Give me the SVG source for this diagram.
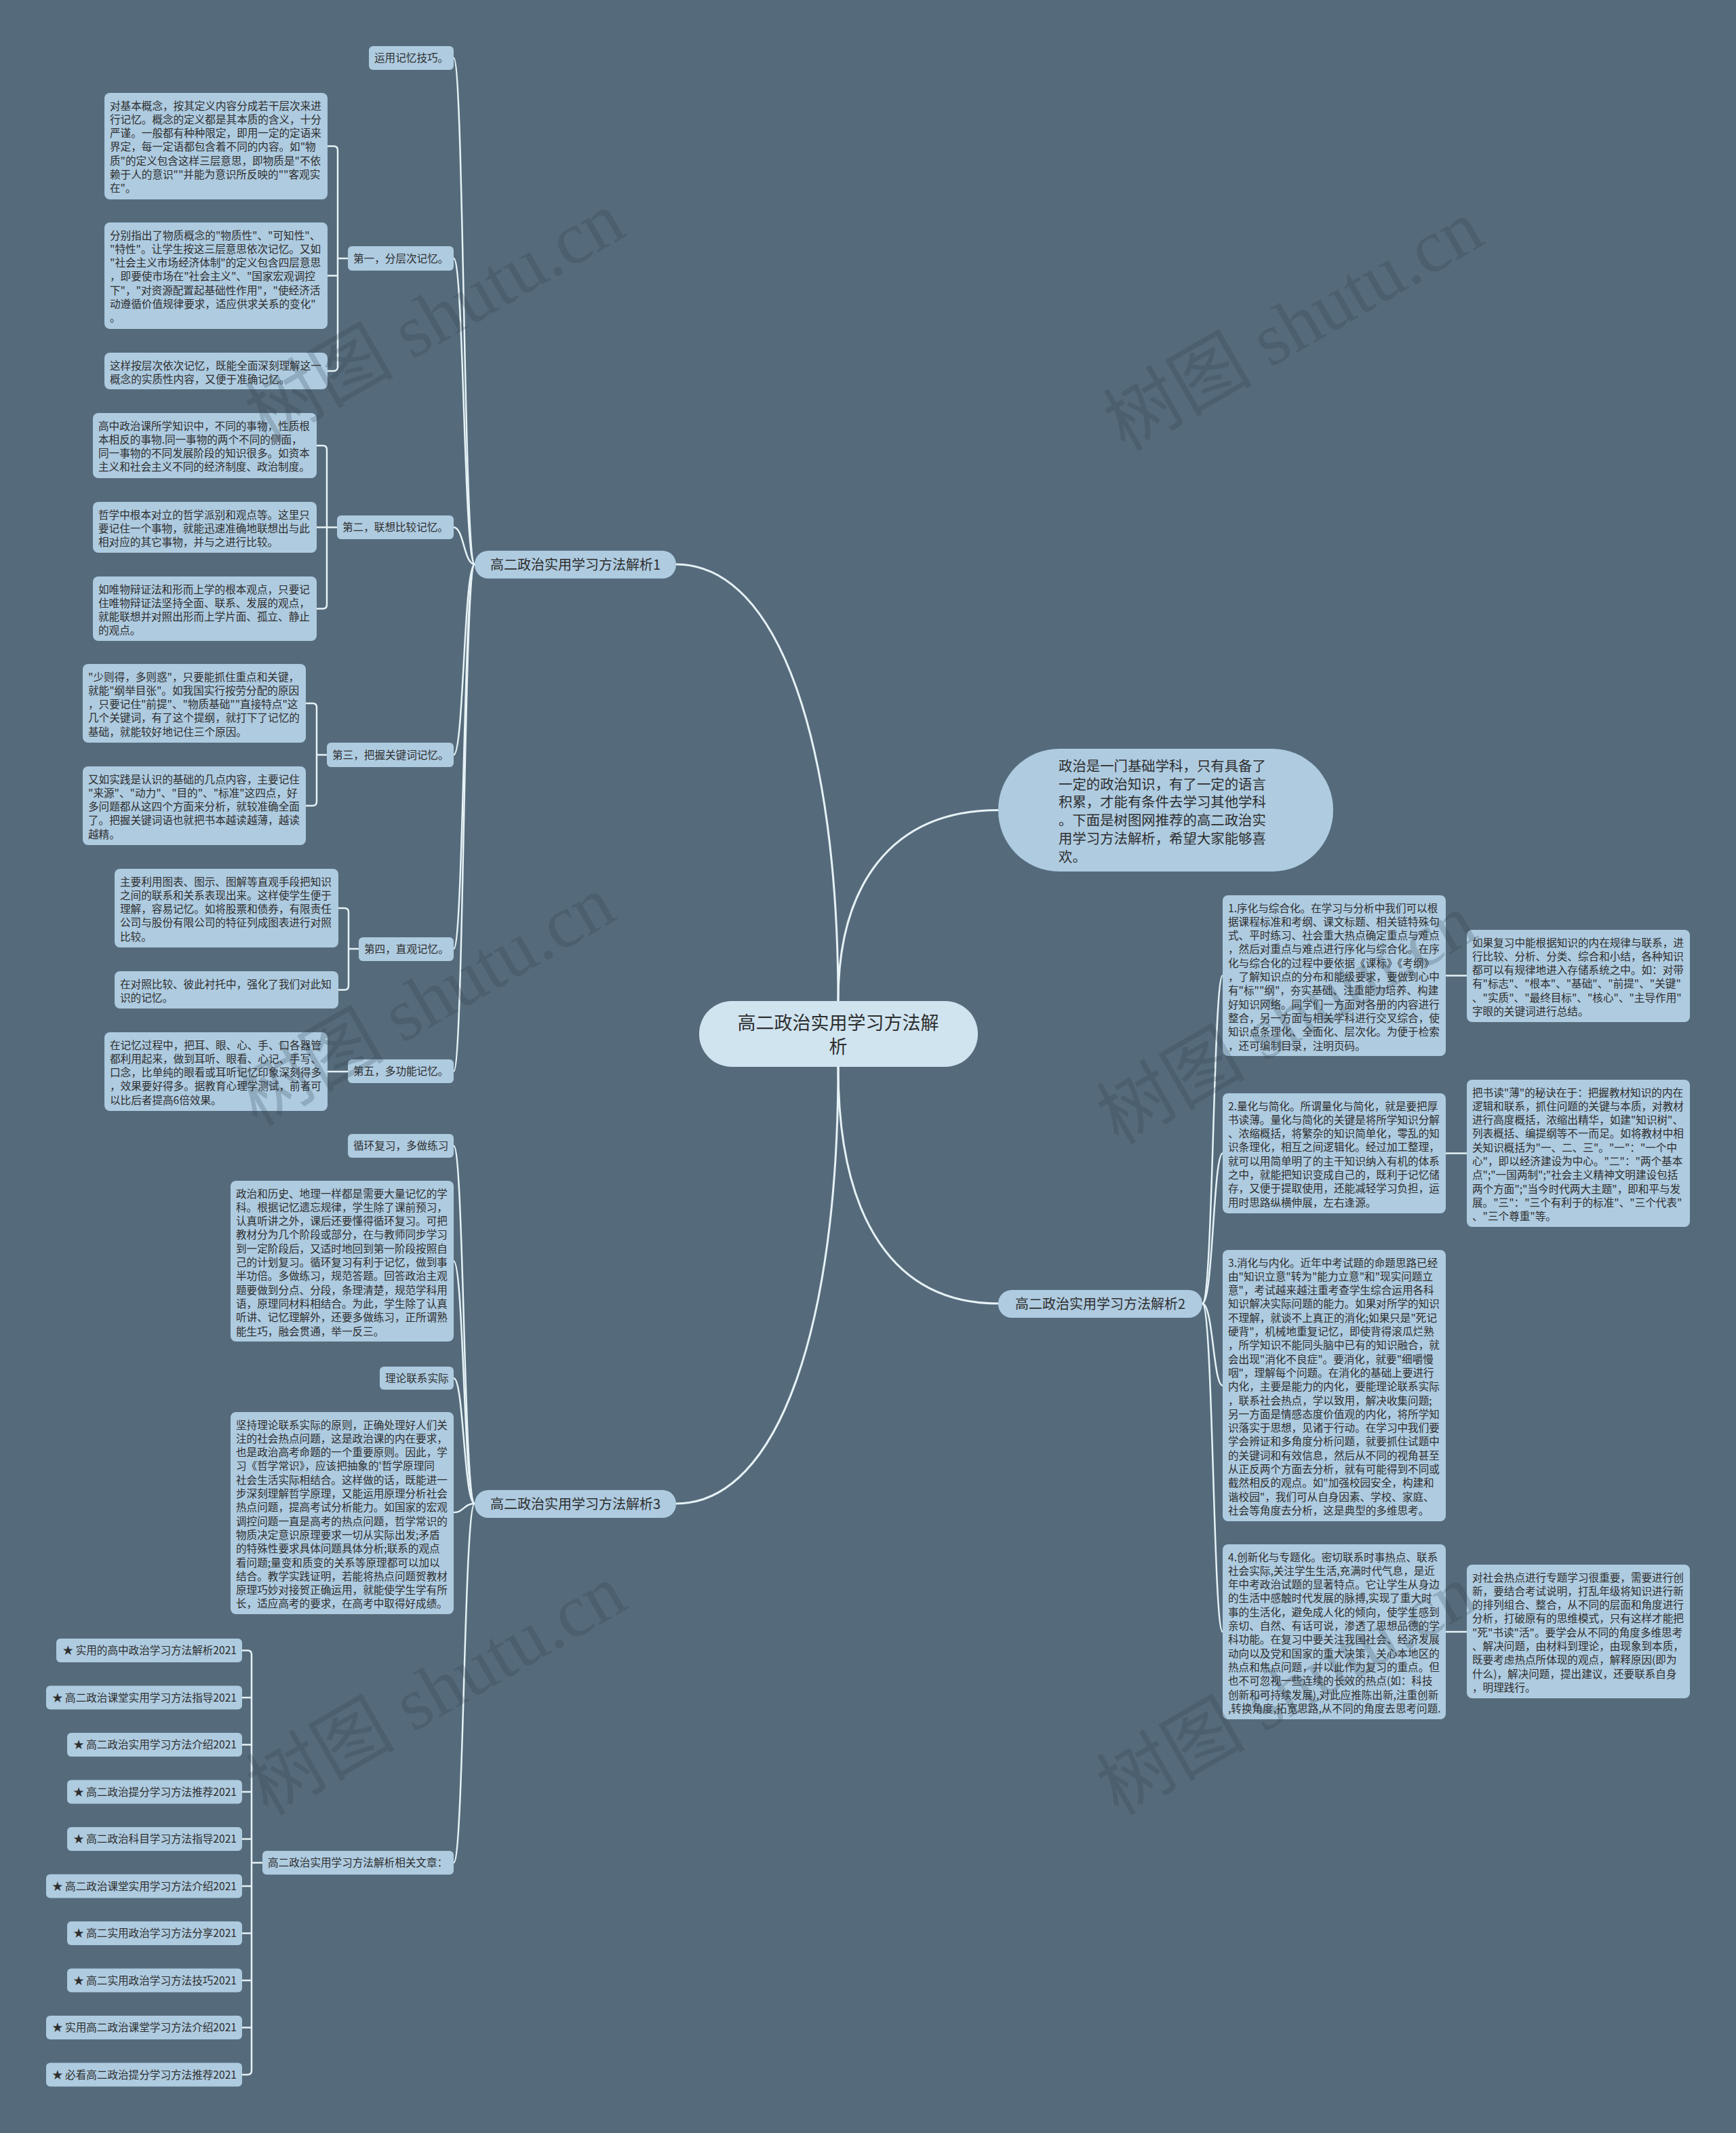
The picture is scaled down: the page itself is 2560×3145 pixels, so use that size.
<svg xmlns="http://www.w3.org/2000/svg" width="2560" height="3145" viewBox="0 0 2560 3145">
<style>
.box{fill:#AECBE0;}
.root{fill:#D0E4F0;}
.t{font-family:"Noto Sans CJK SC","Noto Sans",sans-serif;font-size:15.6px;fill:#2e2e2e;}
.tb{font-family:"Noto Sans CJK SC","Noto Sans",sans-serif;font-size:20px;fill:#2e2e2e;}
.tr{font-family:"Noto Sans CJK SC","Noto Sans",sans-serif;font-size:27px;fill:#2e2e2e;}
.ti{font-family:"Noto Sans CJK SC","Noto Sans",sans-serif;font-size:20.4px;fill:#2e2e2e;}
.ln{fill:none;stroke:#E6F2F6;stroke-width:2.5;stroke-linecap:round;}
.lr{fill:none;stroke:#E6F2F6;stroke-width:3;stroke-linecap:round;}
.wm{font-family:"Liberation Serif","Noto Sans CJK SC",serif;font-size:110px;fill:#2a3843;fill-opacity:0.22;}
</style>
<rect x="0" y="0" width="2560" height="3145" fill="#556B7B"/>

<g id="connectors">
<path class="lr" d="M1236 1476C1236 1100 1150 832 997 832"/>
<path class="lr" d="M1236 1476C1236 1310 1310 1194.5 1472 1194.5"/>
<path class="lr" d="M1236 1573C1236 1800 1320 1922 1472 1922"/>
<path class="lr" d="M1236 1573C1236 1950 1150 2217 997 2217"/>
<path class="ln" d="M700 832C684 832 684 85.5 669 85.5"/>
<path class="ln" d="M700 832C684 832 684 381 669 381"/>
<path class="ln" d="M700 832C684 832 684 777.5 669 777.5"/>
<path class="ln" d="M700 832C684 832 684 1113 669 1113"/>
<path class="ln" d="M700 832C684 832 684 1399 669 1399"/>
<path class="ln" d="M700 832C684 832 684 1579.5 669 1579.5"/>
<path class="ln" d="M700 2217C684 2217 684 1689.5 669 1689.5"/>
<path class="ln" d="M700 2217C684 2217 684 1859.5 669 1859.5"/>
<path class="ln" d="M700 2217C684 2217 684 2032 669 2032"/>
<path class="ln" d="M700 2217C684 2217 684 2230 669 2230"/>
<path class="ln" d="M700 2217C684 2217 684 2746.5 669 2746.5"/>
<path class="ln" d="M1773 1922C1789 1922 1789 1438.5 1803 1438.5"/>
<path class="ln" d="M1773 1922C1789 1922 1789 1700.5 1803 1700.5"/>
<path class="ln" d="M1773 1922C1789 1922 1789 2043 1803 2043"/>
<path class="ln" d="M1773 1922C1789 1922 1789 2406 1803 2406"/>
<path class="ln" d="M513 381H498M483 215.5H492Q498 215.5 498 221.5V541Q498 547 492 547H483M483 406.5H498"/>
<path class="ln" d="M497 777.5H482M467 657H476Q482 657 482 663V891.5Q482 897.5 476 897.5H467M467 777.5H482"/>
<path class="ln" d="M482 1113H467M451 1037H461Q467 1037 467 1043V1182Q467 1188 461 1188H451"/>
<path class="ln" d="M529 1399H514M499 1339H508Q514 1339 514 1345V1453.5Q514 1459.5 508 1459.5H499"/>
<path class="ln" d="M483 1580H513"/>
<path class="ln" d="M387 2746.5H371M357 2433.5H365Q371 2433.5 371 2439.5V3053Q371 3059 365 3059H357M357 2503H371M357 2572.5H371M357 2642H371M357 2711.5H371M357 2781H371M357 2850.5H371M357 2920H371M357 2989.5H371"/>
<path class="ln" d="M2132 1438.5H2163M2132 1700.5H2163M2132 2406H2163"/>
</g>

<g id="root">
<rect class="root" x="1031" y="1476" width="411" height="97" rx="48"/>
<text class="tr" x="1236" y="1517.5" text-anchor="middle">高二政治实用学习方法解</text>
<text class="tr" x="1236" y="1552.5" text-anchor="middle">析</text>
</g>

<g id="intro">
<rect class="box" x="1472" y="1104" width="494" height="181" rx="90"/>
<text class="ti" x="1561" y="1137"><tspan x="1561" dy="0">政治是一门基础学科，只有具备了</tspan><tspan x="1561" dy="26.7">一定的政治知识，有了一定的语言</tspan><tspan x="1561" dy="26.7">积累，才能有条件去学习其他学科</tspan><tspan x="1561" dy="26.7">。下面是树图网推荐的高二政治实</tspan><tspan x="1561" dy="26.7">用学习方法解析，希望大家能够喜</tspan><tspan x="1561" dy="26.7">欢。</tspan></text>
</g>

<g id="branch1">
<rect class="box" x="700" y="812" width="297" height="41" rx="20"/>
<text class="tb" x="848.5" y="839.5" text-anchor="middle">高二政治实用学习方法解析1</text>
</g>
<g id="branch2">
<rect class="box" x="1472" y="1902" width="301" height="41" rx="20"/>
<text class="tb" x="1622.5" y="1929.5" text-anchor="middle">高二政治实用学习方法解析2</text>
</g>
<g id="branch3">
<rect class="box" x="700" y="2197" width="297" height="41" rx="20"/>
<text class="tb" x="848.5" y="2224.5" text-anchor="middle">高二政治实用学习方法解析3</text>
</g>

<g id="n-yunyong">
<rect class="box" x="544" y="68" width="125" height="35" rx="6"/>
<text class="t" x="552" y="91">运用记忆技巧。</text>
</g>
<g id="n-di1">
<rect class="box" x="513" y="363" width="156" height="36" rx="6"/>
<text class="t" x="521" y="386.5">第一，分层次记忆。</text>
</g>
<g id="n-a1">
<rect class="box" x="154" y="137" width="329" height="157" rx="8"/>
<text class="t" x="162" y="161.5"><tspan x="162" dy="0">对基本概念，按其定义内容分成若干层次来进</tspan><tspan x="162" dy="20.3">行记忆。概念的定义都是其本质的含义，十分</tspan><tspan x="162" dy="20.3">严谨。一般都有种种限定，即用一定的定语来</tspan><tspan x="162" dy="20.3">界定，每一定语都包含着不同的内容。如"物</tspan><tspan x="162" dy="20.3">质"的定义包含这样三层意思，即物质是"不依</tspan><tspan x="162" dy="20.3">赖于人的意识""并能为意识所反映的""客观实</tspan><tspan x="162" dy="20.3">在"。</tspan></text>
</g>
<g id="n-a2">
<rect class="box" x="154" y="328" width="329" height="157" rx="8"/>
<text class="t" x="162" y="352.5"><tspan x="162" dy="0">分别指出了物质概念的"物质性"、"可知性"、</tspan><tspan x="162" dy="20.3">"特性"。让学生按这三层意思依次记忆。又如</tspan><tspan x="162" dy="20.3">"社会主义市场经济体制"的定义包含四层意思</tspan><tspan x="162" dy="20.3">，即要使市场在"社会主义"、"国家宏观调控</tspan><tspan x="162" dy="20.3">下"，"对资源配置起基础性作用"，"使经济活</tspan><tspan x="162" dy="20.3">动遵循价值规律要求，适应供求关系的变化"</tspan><tspan x="162" dy="20.3">。</tspan></text>
</g>
<g id="n-a3">
<rect class="box" x="154" y="520" width="329" height="54" rx="8"/>
<text class="t" x="162" y="544.5"><tspan x="162" dy="0">这样按层次依次记忆，既能全面深刻理解这一</tspan><tspan x="162" dy="20.3">概念的实质性内容，又便于准确记忆。</tspan></text>
</g>

<g id="n-di2">
<rect class="box" x="497" y="760" width="172" height="35" rx="6"/>
<text class="t" x="505" y="783">第二，联想比较记忆。</text>
</g>
<g id="n-b1">
<rect class="box" x="137" y="609" width="330" height="96" rx="8"/>
<text class="t" x="145" y="633.5"><tspan x="145" dy="0">高中政治课所学知识中，不同的事物，性质根</tspan><tspan x="145" dy="20.3">本相反的事物.同一事物的两个不同的侧面，</tspan><tspan x="145" dy="20.3">同一事物的不同发展阶段的知识很多。如资本</tspan><tspan x="145" dy="20.3">主义和社会主义不同的经济制度、政治制度。</tspan></text>
</g>
<g id="n-b2">
<rect class="box" x="137" y="740" width="330" height="75" rx="8"/>
<text class="t" x="145" y="764.5"><tspan x="145" dy="0">哲学中根本对立的哲学派别和观点等。这里只</tspan><tspan x="145" dy="20.3">要记住一个事物，就能迅速准确地联想出与此</tspan><tspan x="145" dy="20.3">相对应的其它事物，并与之进行比较。</tspan></text>
</g>
<g id="n-b3">
<rect class="box" x="137" y="850" width="330" height="95" rx="8"/>
<text class="t" x="145" y="874.5"><tspan x="145" dy="0">如唯物辩证法和形而上学的根本观点，只要记</tspan><tspan x="145" dy="20.3">住唯物辩证法坚持全面、联系、发展的观点，</tspan><tspan x="145" dy="20.3">就能联想并对照出形而上学片面、孤立、静止</tspan><tspan x="145" dy="20.3">的观点。</tspan></text>
</g>

<g id="n-di3">
<rect class="box" x="482" y="1095" width="187" height="36" rx="6"/>
<text class="t" x="490" y="1118.5">第三，把握关键词记忆。</text>
</g>
<g id="n-c1">
<rect class="box" x="122" y="979" width="329" height="116" rx="8"/>
<text class="t" x="130" y="1003.5"><tspan x="130" dy="0">"少则得，多则惑"，只要能抓住重点和关键，</tspan><tspan x="130" dy="20.3">就能"纲举目张"。如我国实行按劳分配的原因</tspan><tspan x="130" dy="20.3">，只要记住"前提"、"物质基础""直接特点"这</tspan><tspan x="130" dy="20.3">几个关键词，有了这个提纲，就打下了记忆的</tspan><tspan x="130" dy="20.3">基础，就能较好地记住三个原因。</tspan></text>
</g>
<g id="n-c2">
<rect class="box" x="122" y="1130" width="329" height="116" rx="8"/>
<text class="t" x="130" y="1154.5"><tspan x="130" dy="0">又如实践是认识的基础的几点内容，主要记住</tspan><tspan x="130" dy="20.3">"来源"、"动力"、"目的"、"标准"这四点，好</tspan><tspan x="130" dy="20.3">多问题都从这四个方面来分析，就较准确全面</tspan><tspan x="130" dy="20.3">了。把握关键词语也就把书本越读越薄，越读</tspan><tspan x="130" dy="20.3">越精。</tspan></text>
</g>

<g id="n-di4">
<rect class="box" x="529" y="1382" width="140" height="35" rx="6"/>
<text class="t" x="537" y="1405">第四，直观记忆。</text>
</g>
<g id="n-d1">
<rect class="box" x="169" y="1281" width="330" height="116" rx="8"/>
<text class="t" x="177" y="1305.5"><tspan x="177" dy="0">主要利用图表、图示、图解等直观手段把知识</tspan><tspan x="177" dy="20.3">之间的联系和关系表现出来。这样使学生便于</tspan><tspan x="177" dy="20.3">理解，容易记忆。如将股票和债券，有限责任</tspan><tspan x="177" dy="20.3">公司与股份有限公司的特征列成图表进行对照</tspan><tspan x="177" dy="20.3">比较。</tspan></text>
</g>
<g id="n-d2">
<rect class="box" x="169" y="1432" width="330" height="55" rx="8"/>
<text class="t" x="177" y="1456.5"><tspan x="177" dy="0">在对照比较、彼此衬托中，强化了我们对此知</tspan><tspan x="177" dy="20.3">识的记忆。</tspan></text>
</g>

<g id="n-di5">
<rect class="box" x="513" y="1562" width="156" height="35" rx="6"/>
<text class="t" x="521" y="1585">第五，多功能记忆。</text>
</g>
<g id="n-e1">
<rect class="box" x="154" y="1522" width="329" height="116" rx="8"/>
<text class="t" x="162" y="1546.5"><tspan x="162" dy="0">在记忆过程中，把耳、眼、心、手、口各器管</tspan><tspan x="162" dy="20.3">都利用起来，做到耳听、眼看、心记、手写、</tspan><tspan x="162" dy="20.3">口念，比单纯的眼看或耳听记忆印象深刻得多</tspan><tspan x="162" dy="20.3">，效果要好得多。据教育心理学测试，前者可</tspan><tspan x="162" dy="20.3">以比后者提高6倍效果。</tspan></text>
</g>

<g id="n-xunhuan">
<rect class="box" x="513" y="1672" width="156" height="35" rx="6"/>
<text class="t" x="521" y="1695">循环复习，多做练习</text>
</g>
<g id="n-f1">
<rect class="box" x="340" y="1741" width="329" height="237" rx="8"/>
<text class="t" x="348" y="1765.5"><tspan x="348" dy="0">政治和历史、地理一样都是需要大量记忆的学</tspan><tspan x="348" dy="20.3">科。根据记忆遗忘规律，学生除了课前预习，</tspan><tspan x="348" dy="20.3">认真听讲之外，课后还要懂得循环复习。可把</tspan><tspan x="348" dy="20.3">教材分为几个阶段或部分，在与教师同步学习</tspan><tspan x="348" dy="20.3">到一定阶段后，又适时地回到第一阶段按照自</tspan><tspan x="348" dy="20.3">己的计划复习。循环复习有利于记忆，做到事</tspan><tspan x="348" dy="20.3">半功倍。多做练习，规范答题。回答政治主观</tspan><tspan x="348" dy="20.3">题要做到分点、分段，条理清楚，规范学科用</tspan><tspan x="348" dy="20.3">语，原理同材料相结合。为此，学生除了认真</tspan><tspan x="348" dy="20.3">听讲、记忆理解外，还要多做练习，正所谓熟</tspan><tspan x="348" dy="20.3">能生巧，融会贯通，举一反三。</tspan></text>
</g>
<g id="n-lilun">
<rect class="box" x="560" y="2015" width="109" height="34" rx="6"/>
<text class="t" x="568" y="2037.5">理论联系实际</text>
</g>
<g id="n-g1">
<rect class="box" x="340" y="2082" width="329" height="298" rx="8"/>
<text class="t" x="348" y="2106.5"><tspan x="348" dy="0">坚持理论联系实际的原则，正确处理好人们关</tspan><tspan x="348" dy="20.3">注的社会热点问题，这是政治课的内在要求，</tspan><tspan x="348" dy="20.3">也是政治高考命题的一个重要原则。因此，学</tspan><tspan x="348" dy="20.3">习《哲学常识》，应该把抽象的'哲学原理同</tspan><tspan x="348" dy="20.3">社会生活实际相结合。这样做的话，既能进一</tspan><tspan x="348" dy="20.3">步深刻理解哲学原理，又能运用原理分析社会</tspan><tspan x="348" dy="20.3">热点问题，提高考试分析能力。如国家的宏观</tspan><tspan x="348" dy="20.3">调控问题一直是高考的热点问题，哲学常识的</tspan><tspan x="348" dy="20.3">物质决定意识原理要求一切从实际出发;矛盾</tspan><tspan x="348" dy="20.3">的特殊性要求具体问题具体分析;联系的观点</tspan><tspan x="348" dy="20.3">看问题;量变和质变的关系等原理都可以加以</tspan><tspan x="348" dy="20.3">结合。教学实践证明，若能将热点问题贺教材</tspan><tspan x="348" dy="20.3">原理巧妙对接贺正确运用，就能使学生学有所</tspan><tspan x="348" dy="20.3">长，适应高考的要求，在高考中取得好成绩。</tspan></text>
</g>

<g id="n-related">
<rect class="box" x="387" y="2729" width="282" height="35" rx="6"/>
<text class="t" x="395" y="2752">高二政治实用学习方法解析相关文章：</text>
</g>
<g id="art1"><rect class="box" x="83" y="2416" width="274" height="35" rx="6"/><text class="t" x="349" y="2439" text-anchor="end">★ 实用的高中政治学习方法解析2021</text></g>
<g id="art2"><rect class="box" x="68" y="2485.5" width="289" height="35" rx="6"/><text class="t" x="349" y="2508.5" text-anchor="end">★ 高二政治课堂实用学习方法指导2021</text></g>
<g id="art3"><rect class="box" x="99" y="2555" width="258" height="35" rx="6"/><text class="t" x="349" y="2578" text-anchor="end">★ 高二政治实用学习方法介绍2021</text></g>
<g id="art4"><rect class="box" x="99" y="2624.5" width="258" height="35" rx="6"/><text class="t" x="349" y="2647.5" text-anchor="end">★ 高二政治提分学习方法推荐2021</text></g>
<g id="art5"><rect class="box" x="99" y="2694" width="258" height="35" rx="6"/><text class="t" x="349" y="2717" text-anchor="end">★ 高二政治科目学习方法指导2021</text></g>
<g id="art6"><rect class="box" x="68" y="2763.5" width="289" height="35" rx="6"/><text class="t" x="349" y="2786.5" text-anchor="end">★ 高二政治课堂实用学习方法介绍2021</text></g>
<g id="art7"><rect class="box" x="99" y="2833" width="258" height="35" rx="6"/><text class="t" x="349" y="2856" text-anchor="end">★ 高二实用政治学习方法分享2021</text></g>
<g id="art8"><rect class="box" x="99" y="2902.5" width="258" height="35" rx="6"/><text class="t" x="349" y="2925.5" text-anchor="end">★ 高二实用政治学习方法技巧2021</text></g>
<g id="art9"><rect class="box" x="68" y="2972" width="289" height="35" rx="6"/><text class="t" x="349" y="2995" text-anchor="end">★ 实用高二政治课堂学习方法介绍2021</text></g>
<g id="art10"><rect class="box" x="68" y="3041.5" width="289" height="35" rx="6"/><text class="t" x="349" y="3064.5" text-anchor="end">★ 必看高二政治提分学习方法推荐2021</text></g>

<g id="n-r1">
<rect class="box" x="1803" y="1320" width="329" height="237" rx="8"/>
<text class="t" x="1811" y="1344.5"><tspan x="1811" dy="0">1.序化与综合化。在学习与分析中我们可以根</tspan><tspan x="1811" dy="20.3">据课程标准和考纲、课文标题、相关链特殊句</tspan><tspan x="1811" dy="20.3">式、平时练习、社会重大热点确定重点与难点</tspan><tspan x="1811" dy="20.3">，然后对重点与难点进行序化与综合化。在序</tspan><tspan x="1811" dy="20.3">化与综合化的过程中要依据《课标》《考纲》</tspan><tspan x="1811" dy="20.3">，了解知识点的分布和能级要求，要做到心中</tspan><tspan x="1811" dy="20.3">有"标""纲"，夯实基础、注重能力培养、构建</tspan><tspan x="1811" dy="20.3">好知识网络。同学们一方面对各册的内容进行</tspan><tspan x="1811" dy="20.3">整合，另一方面与相关学科进行交叉综合，使</tspan><tspan x="1811" dy="20.3">知识点条理化、全面化、层次化。为便于检索</tspan><tspan x="1811" dy="20.3">，还可编制目录，注明页码。</tspan></text>
</g>
<g id="n-r1a">
<rect class="box" x="2163" y="1371" width="329" height="136" rx="8"/>
<text class="t" x="2171" y="1395.5"><tspan x="2171" dy="0">如果复习中能根据知识的内在规律与联系，进</tspan><tspan x="2171" dy="20.3">行比较、分析、分类、综合和小结，各种知识</tspan><tspan x="2171" dy="20.3">都可以有规律地进入存储系统之中。如：对带</tspan><tspan x="2171" dy="20.3">有"标志"、"根本"、"基础"、"前提"、"关键"</tspan><tspan x="2171" dy="20.3">、"实质"、"最终目标"、"核心"、"主导作用"</tspan><tspan x="2171" dy="20.3">字眼的关键词进行总结。</tspan></text>
</g>
<g id="n-r2">
<rect class="box" x="1803" y="1612" width="329" height="177" rx="8"/>
<text class="t" x="1811" y="1636.5"><tspan x="1811" dy="0">2.量化与简化。所谓量化与简化，就是要把厚</tspan><tspan x="1811" dy="20.3">书读薄。量化与简化的关键是将所学知识分解</tspan><tspan x="1811" dy="20.3">、浓缩概括，将繁杂的知识简单化，零乱的知</tspan><tspan x="1811" dy="20.3">识条理化，相互之间逻辑化。经过加工整理，</tspan><tspan x="1811" dy="20.3">就可以用简单明了的主干知识纳入有机的体系</tspan><tspan x="1811" dy="20.3">之中，就能把知识变成自己的，既利于记忆储</tspan><tspan x="1811" dy="20.3">存，又便于提取使用，还能减轻学习负担，运</tspan><tspan x="1811" dy="20.3">用时思路纵横伸展，左右逢源。</tspan></text>
</g>
<g id="n-r2a">
<rect class="box" x="2163" y="1592" width="329" height="217" rx="8"/>
<text class="t" x="2171" y="1616.5"><tspan x="2171" dy="0">把书读"薄"的秘诀在于：把握教材知识的内在</tspan><tspan x="2171" dy="20.3">逻辑和联系，抓住问题的关键与本质，对教材</tspan><tspan x="2171" dy="20.3">进行高度概括，浓缩出精华，如建"知识树"、</tspan><tspan x="2171" dy="20.3">列表概括、编提纲等不一而足。如将教材中相</tspan><tspan x="2171" dy="20.3">关知识概括为"一、二、三"。"一"："一个中</tspan><tspan x="2171" dy="20.3">心"，即以经济建设为中心。"二"："两个基本</tspan><tspan x="2171" dy="20.3">点";"一国两制";"社会主义精神文明建设包括</tspan><tspan x="2171" dy="20.3">两个方面";"当今时代两大主题"，即和平与发</tspan><tspan x="2171" dy="20.3">展。"三"："三个有利于的标准"、"三个代表"</tspan><tspan x="2171" dy="20.3">、"三个尊重"等。</tspan></text>
</g>
<g id="n-r3">
<rect class="box" x="1803" y="1843" width="329" height="400" rx="8"/>
<text class="t" x="1811" y="1867.5"><tspan x="1811" dy="0">3.消化与内化。近年中考试题的命题思路已经</tspan><tspan x="1811" dy="20.3">由"知识立意"转为"能力立意"和"现实问题立</tspan><tspan x="1811" dy="20.3">意"，考试越来越注重考查学生综合运用各科</tspan><tspan x="1811" dy="20.3">知识解决实际问题的能力。如果对所学的知识</tspan><tspan x="1811" dy="20.3">不理解，就谈不上真正的消化;如果只是"死记</tspan><tspan x="1811" dy="20.3">硬背"，机械地重复记忆，即使背得滚瓜烂熟</tspan><tspan x="1811" dy="20.3">，所学知识不能同头脑中已有的知识融合，就</tspan><tspan x="1811" dy="20.3">会出现"消化不良症"。要消化，就要"细嚼慢</tspan><tspan x="1811" dy="20.3">咽"，理解每个问题。在消化的基础上要进行</tspan><tspan x="1811" dy="20.3">内化，主要是能力的内化，要能理论联系实际</tspan><tspan x="1811" dy="20.3">，联系社会热点，学以致用，解决收集问题;</tspan><tspan x="1811" dy="20.3">另一方面是情感态度价值观的内化，将所学知</tspan><tspan x="1811" dy="20.3">识落实于思想，见诸于行动。在学习中我们要</tspan><tspan x="1811" dy="20.3">学会辨证和多角度分析问题，就要抓住试题中</tspan><tspan x="1811" dy="20.3">的关键词和有效信息，然后从不同的视角甚至</tspan><tspan x="1811" dy="20.3">从正反两个方面去分析，就有可能得到不同或</tspan><tspan x="1811" dy="20.3">截然相反的观点。如"加强校园安全，构建和</tspan><tspan x="1811" dy="20.3">谐校园"，我们可从自身因素、学校、家庭、</tspan><tspan x="1811" dy="20.3">社会等角度去分析，这是典型的多维思考。</tspan></text>
</g>
<g id="n-r4">
<rect class="box" x="1803" y="2277" width="329" height="258" rx="8"/>
<text class="t" x="1811" y="2301.5"><tspan x="1811" dy="0">4.创新化与专题化。密切联系时事热点、联系</tspan><tspan x="1811" dy="20.3">社会实际,关注学生生活,充满时代气息，是近</tspan><tspan x="1811" dy="20.3">年中考政治试题的显著特点。它让学生从身边</tspan><tspan x="1811" dy="20.3">的生活中感触时代发展的脉搏,实现了重大时</tspan><tspan x="1811" dy="20.3">事的生活化，避免成人化的倾向，使学生感到</tspan><tspan x="1811" dy="20.3">亲切、自然、有话可说，渗透了思想品德的学</tspan><tspan x="1811" dy="20.3">科功能。在复习中要关注我国社会、经济发展</tspan><tspan x="1811" dy="20.3">动向以及党和国家的重大决策，关心本地区的</tspan><tspan x="1811" dy="20.3">热点和焦点问题，并以此作为复习的重点。但</tspan><tspan x="1811" dy="20.3">也不可忽视一些连续的长效的热点(如：科技</tspan><tspan x="1811" dy="20.3">创新和可持续发展),对此应推陈出新,注重创新</tspan><tspan x="1811" dy="20.3">,转换角度,拓宽思路,从不同的角度去思考问题.</tspan></text>
</g>
<g id="n-r4a">
<rect class="box" x="2163" y="2307" width="329" height="197" rx="8"/>
<text class="t" x="2171" y="2331.5"><tspan x="2171" dy="0">对社会热点进行专题学习很重要，需要进行创</tspan><tspan x="2171" dy="20.3">新，要结合考试说明，打乱年级将知识进行新</tspan><tspan x="2171" dy="20.3">的排列组合、整合，从不同的层面和角度进行</tspan><tspan x="2171" dy="20.3">分析，打破原有的思维模式，只有这样才能把</tspan><tspan x="2171" dy="20.3">"死"书读"活"。要学会从不同的角度多维思考</tspan><tspan x="2171" dy="20.3">、解决问题，由材料到理论，由现象到本质，</tspan><tspan x="2171" dy="20.3">既要考虑热点所体现的观点，解释原因(即为</tspan><tspan x="2171" dy="20.3">什么)，解决问题，提出建议，还要联系自身</tspan><tspan x="2171" dy="20.3">，明理践行。</tspan></text>
</g>

<g id="watermark">
<text class="wm" text-anchor="middle" transform="translate(660 500) rotate(-30)">树图 shutu.cn</text>
<text class="wm" text-anchor="middle" transform="translate(1926 512) rotate(-30)">树图 shutu.cn</text>
<text class="wm" text-anchor="middle" transform="translate(646 1508) rotate(-30)">树图 shutu.cn</text>
<text class="wm" text-anchor="middle" transform="translate(1916 1535) rotate(-30)">树图 shutu.cn</text>
<text class="wm" text-anchor="middle" transform="translate(662 2524) rotate(-30)">树图 shutu.cn</text>
<text class="wm" text-anchor="middle" transform="translate(1916 2524) rotate(-30)">树图 shutu.cn</text>
</g>
</svg>
